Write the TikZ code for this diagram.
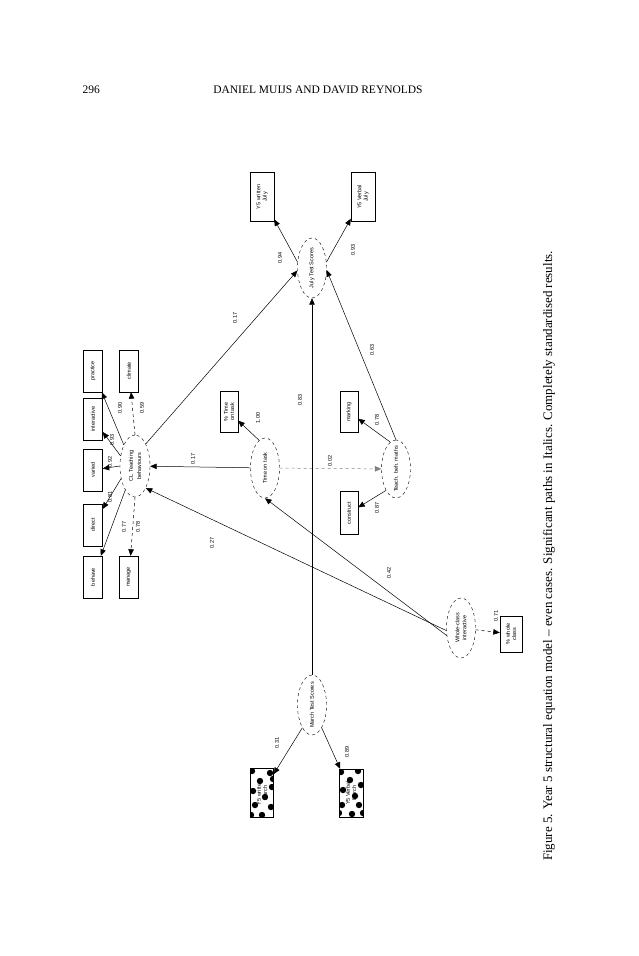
\documentclass[tikz,border=0pt]{standalone}
\usepackage{fontspec}
\setmainfont{Liberation Serif}
\newfontfamily\diagfont{Liberation Sans}
\usetikzlibrary{arrows.meta,shapes.geometric}
\newcommand{\zw}[1]{\makebox[0pt]{\shortstack{#1}}}
\begin{document}
\begin{tikzpicture}[x=1pt,y=-1pt,
  lat/.style={draw, dashed, ellipse, rotate=90, inner sep=0pt, minimum width=60pt, minimum height=29pt,
    font=\diagfont\fontsize{5.5}{6.2}\selectfont},
  obs/.style={draw, rectangle, rotate=90, inner sep=0pt, minimum width=42pt, minimum height=19pt,
    font=\diagfont\fontsize{5.5}{6.2}\selectfont, align=center},
  pth/.style={-{Triangle[length=6.5pt,width=5.5pt]}, line width=0.5pt},
  dpth/.style={pth, dashed},
  lab/.style={rotate=90, inner sep=0.5pt, font=\diagfont\fontsize{5.5}{6}\selectfont},
  blob/.style={fill=black},
]
\useasboundingbox (0,0) rectangle (638,956);
\fill[white] (0,0) rectangle (638,956);

% header and caption
\node[anchor=west, font=\fontsize{11.5}{13}\selectfont] (pg) at (79,90) {296};
\node[font=\fontsize{11.5}{13}\selectfont] (hd) at (318,90) {DANIEL MUIJS AND DAVID REYNOLDS};
\node[rotate=90, font=\fontsize{13}{15}\selectfont] (cap) at (549,556)
  {Figure 5. Year 5 structural equation model -- even cases. Significant paths in Italics. Completely standardised results.};

% blobs behind March boxes
\begin{scope}[shift={(262,793)}]
  \clip (-11.5,-24.5) rectangle (11.5,24.5);
  \foreach \p in {(-10,-22),(8,-20),(-2,-12),(10,-6),(-9,-2),(3,4),(-7,12),(9,14),(0,22),(-11,22),(11,-14)}
    \fill[blob] \p circle (3.2);
\end{scope}
\begin{scope}[shift={(351,793)}]
  \clip (-12,-24) rectangle (12,24);
  \foreach \p in {(-10,-21),(7,-22),(-1,-13),(10,-8),(-8,-3),(4,3),(-9,12),(8,12),(1,21),(-12,20),(12,20)}
    \fill[blob] \p circle (3.2);
\end{scope}

% nodes
\node[obs, minimum width=49pt, minimum height=24pt] (y5wj) at (262,197) {Y5 written\\July};
\node[obs, minimum width=49pt, minimum height=24pt] (y5vj) at (363,197) {Y5 Verbal\\July};
\node[lat] (july) at (312,268) {\zw{July Test Scores}};

\node[obs] (practice) at (93,371) {practice};
\node[obs] (climate) at (129,371) {climate};
\node[obs] (interactive) at (93,419) {interactive};
\node[obs] (varied) at (93,470) {varied};
\node[obs] (direct) at (93,525) {direct};
\node[obs] (behave) at (93,577) {behave};
\node[obs] (manage) at (129,577) {manage};
\node[lat, minimum width=62pt, minimum height=30pt] (cl) at (135,466) {\zw{CL Teaching\\behaviours}};

\node[obs, minimum width=41pt, minimum height=18pt] (pctime) at (229,412) {\% Time\\on task};
\node[lat] (tot) at (265,468) {\zw{Time on task}};
\node[obs, minimum width=41pt, minimum height=18pt] (marking) at (349,412) {marking};
\node[obs, minimum width=43pt, minimum height=18pt] (construct) at (349,513) {construct};
\node[lat, minimum width=58pt] (tbm) at (396,469) {\zw{Teach. beh. maths}};

\node[lat] (wc) at (461,628) {\zw{Whole-class\\interactive}};
\node[obs, minimum width=36pt, minimum height=22pt] (pwc) at (511,634) {\% whole\\class};

\node[lat] (march) at (312,705) {\zw{March Test Scores}};
\node[obs, minimum width=49pt, minimum height=23pt] (y5wm) at (262,793) {Y5 written\\March};
\node[obs, minimum width=48pt, minimum height=24pt] (y5vm) at (351,793) {Y5 Verbal\\March};

% structural paths
\draw[pth] (tot) -- (cl);
\draw[pth] (wc.100) -- (cl.south west);
\draw[pth] (wc.118) -- (tot.west);
\draw[dpth, gray] (tot) -- (tbm);
\draw[pth] (march) -- (july);
\draw[pth] (cl.south east) -- (july.100);
\draw[pth] (tbm.east) -- (july.262);

% measurement paths
\draw[pth] (july.68) -- (y5wj);
\draw[pth] (july.292) -- (y5vj);
\draw[pth] (march.157) -- (y5wm);
\draw[pth] (march.203) -- (y5vm);
\draw[pth] (tot.12) -- (pctime);
\draw[pth] (tbm.12) -- (marking);
\draw[pth] (tbm.155) -- (construct);
\draw[dpth] (wc) -- (pwc);
\draw[pth] (cl.28) -- (practice);
\draw[dpth] (cl.east) -- (climate);
\draw[pth] (cl.55) -- (interactive);
\draw[pth] (cl.north) -- (varied);
\draw[pth] (cl.132) -- (direct);
\draw[pth] (cl.158) -- (behave);
\draw[dpth] (cl.west) -- (manage);

% path coefficients
\node[lab] (l1) at (193,459) {0.17};
\node[lab] (l2) at (212,543) {0.27};
\node[lab] (l3) at (389,573) {0.42};
\node[lab] (l4) at (330,461) {0.02};
\node[lab] (l5) at (300,400) {0.83};
\node[lab] (l6) at (235,318) {0.17};
\node[lab] (l7) at (372,350) {0.63};
\node[lab] (l8) at (258,418) {1.00};
\node[lab] (l9) at (377,420) {0.78};
\node[lab] (l10) at (377,508) {0.87};
\node[lab] (l11) at (280,258) {0.94};
\node[lab] (l12) at (353,250) {0.93};
\node[lab] (l13) at (277,743) {0.31};
\node[lab] (l14) at (347,752) {0.89};
\node[lab] (l15) at (496,616) {0.71};
\node[lab] (l16) at (120,408) {0.90};
\node[lab] (l17) at (142,408) {0.59};
\node[lab] (l18) at (112,440) {0.93};
\node[lab] (l19) at (110,462) {0.92};
\node[lab] (l20) at (110,497) {0.81};
\node[lab] (l21) at (124,527) {0.77};
\node[lab] (l22) at (138,527) {0.78};
\end{tikzpicture}
\end{document}
